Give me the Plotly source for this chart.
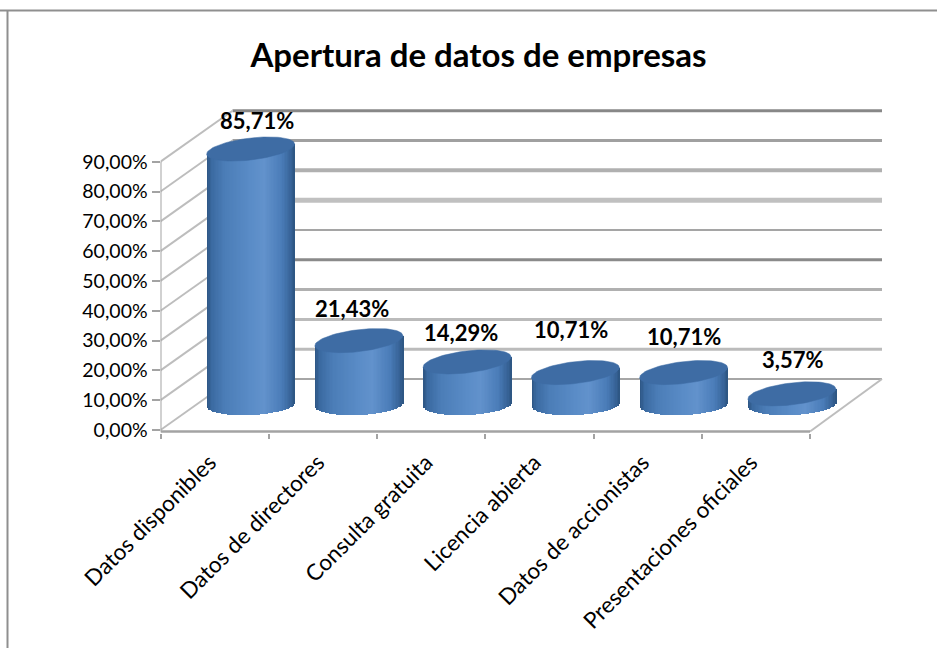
import numpy as np
import plotly.graph_objects as go

# --- data ---
CATEGORIES = ["Datos disponibles", "Datos de directores", "Consulta gratuita",
              "Licencia abierta", "Datos de accionistas", "Presentaciones oficiales"]
VALUES = [85.71, 21.43, 14.29, 10.71, 10.71, 3.57]
VALUE_LABELS = ["85,71%", "21,43%", "14,29%", "10,71%", "10,71%", "3,57%"]
Y_TICKS = [0, 10, 20, 30, 40, 50, 60, 70, 80, 90]
Y_TICK_LABELS = ["0,00%", "10,00%", "20,00%", "30,00%", "40,00%", "50,00%",
                 "60,00%", "70,00%", "80,00%", "90,00%"]
TITLE = "Apertura de datos de empresas"

# --- layout constants (pixels of the 937x648 page) ---
W, H = 937, 648
PX_L, PX_R, PX_T, PX_B = 160.5, 890.0, 100.0, 433.0
PX_PER_X = 108.25
PX_PER_Y = 2.981
Y0_PX = 430.0
DEPTH_X = 72 / PX_PER_X
DEPTH_Y = 51 / PX_PER_Y
RX = 44 / PX_PER_X
RY_TOP = 11 / PX_PER_Y
RY_BOT = 10.5 / PX_PER_Y
TILT_TOP = 5 / PX_PER_Y
TILT_BOT = 2 / PX_PER_Y
X_RANGE = [-0.5, -0.5 + (PX_R - PX_L) / PX_PER_X]
Y_RANGE = [(Y0_PX - PX_B) / PX_PER_Y, (Y0_PX - PX_T) / PX_PER_Y]
LABEL_X_SHIFT = 5 / PX_PER_X

FONT = "Lato, Carlito, Calibri, sans-serif"
AXIS = "#a3a3a3"
WALL = "#bdbdbd"
GRID_STYLE = [("#a6a6a6", 2), ("#bbbbbb", 3), ("#bbbbbb", 3), ("#b0b0b0", 3), ("#8a8a8a", 3),
              ("#a5a5a5", 2), ("#c0c0c0", 5), ("#b0b0b0", 4), ("#a0a0a0", 3), ("#888888", 3)]
LABEL_SHIFT = [(6, 29), (-7, 32), (-6, 29), (-4, 43), (0, 36), (1, 34)]

STOPS_U = [-1.0, -0.9, -0.6, 0.0, 0.3, 0.7, 0.92, 1.0]
STOPS_RGB = [(45, 85, 130), (58, 105, 160), (75, 125, 183), (90, 140, 199),
             (98, 146, 204), (74, 124, 184), (54, 98, 150), (44, 84, 128)]
CAP = "#3e6ca4"


def shade(u):
    rgb = [np.interp(u, STOPS_U, [c[k] for c in STOPS_RGB]) for k in range(3)]
    return "rgb({:.0f},{:.0f},{:.0f})".format(*rgb)


fig = go.Figure()

# Cylinder sides: each one is a row of narrow bars with a curved base
N = 64
us = (np.arange(N) + 0.5) / N * 2 - 1
sx, sbase, sh, scol = [], [], [], []
for i, v in enumerate(VALUES):
    cx = i + DEPTH_X / 2
    cy = DEPTH_Y / 2
    for u in us:
        sx.append(cx + u * RX)
        sbase.append(cy - RY_BOT * np.sqrt(1 - u * u) + TILT_BOT * u)
        sh.append(v + RY_BOT * np.sqrt(1 - u * u) + (TILT_TOP - TILT_BOT) * u)
        scol.append(shade(u))
fig.add_trace(go.Bar(x=sx, y=sh, base=sbase, width=2 * RX / N * 1.5,
                     marker=dict(color=scol, line=dict(width=0)),
                     showlegend=False, hoverinfo="skip"))

# Cylinder caps
t = np.linspace(0, 2 * np.pi, 90)
for i, v in enumerate(VALUES):
    cx = i + DEPTH_X / 2
    cy = DEPTH_Y / 2 + v
    fig.add_trace(go.Scatter(x=cx + RX * np.cos(t),
                             y=cy + RY_TOP * np.sin(t) + TILT_TOP * np.cos(t),
                             mode="lines", fill="toself", fillcolor=CAP,
                             line=dict(color=CAP, width=0.5),
                             showlegend=False, hoverinfo="skip"))

# Walls and axis lines, behind the cylinders
shapes = []
x_front_l, x_front_r = -0.5, 5.5
for tick, (col, wid) in zip(Y_TICKS, GRID_STYLE):
    shapes.append(dict(type="line", xref="x", yref="y", layer="below",
                       x0=x_front_l + DEPTH_X, x1=x_front_r + DEPTH_X,
                       y0=tick + DEPTH_Y, y1=tick + DEPTH_Y,
                       line=dict(color=col, width=wid)))
    shapes.append(dict(type="line", xref="x", yref="y", layer="below",
                       x0=x_front_l, x1=x_front_l + DEPTH_X,
                       y0=tick, y1=tick + DEPTH_Y,
                       line=dict(color=WALL, width=2)))
shapes.append(dict(type="line", xref="x", yref="y", layer="below",
                   x0=x_front_r, x1=x_front_r + DEPTH_X, y0=-0.5, y1=DEPTH_Y,
                   line=dict(color=WALL, width=2)))
shapes.append(dict(type="line", xref="x", yref="y", layer="below",
                   x0=x_front_l, x1=x_front_r, y0=-0.5, y1=-0.5,
                   line=dict(color=AXIS, width=2.5)))
shapes.append(dict(type="line", xref="x", yref="y", layer="below",
                   x0=x_front_l, x1=x_front_l, y0=-0.5, y1=max(Y_TICKS),
                   line=dict(color=AXIS, width=2)))
# Outer frame: only top and left edges are visible
shapes.append(dict(type="line", xref="paper", yref="paper", x0=0, x1=1,
                   y0=1 - 10.5 / H, y1=1 - 10.5 / H, line=dict(color="#8f8f8f", width=2)))
shapes.append(dict(type="line", xref="paper", yref="paper", x0=7.5 / W, x1=7.5 / W,
                   y0=0, y1=1 - 10 / H, line=dict(color="#8f8f8f", width=2)))

annotations = []
for i, (v, lab, (dx, dy)) in enumerate(zip(VALUES, VALUE_LABELS, LABEL_SHIFT)):
    annotations.append(dict(x=i + DEPTH_X / 2, y=v + DEPTH_Y / 2, xref="x", yref="y",
                            text="<b>%s</b>" % lab, showarrow=False, xshift=dx, yshift=dy,
                            xanchor="center", yanchor="middle",
                            font=dict(family=FONT, size=22, color="black")))

fig.update_layout(
    width=W, height=H, autosize=False,
    margin=dict(l=0, r=0, t=0, b=0, pad=0),
    paper_bgcolor="white", plot_bgcolor="rgba(0,0,0,0)",
    barmode="overlay", bargap=0, showlegend=False,
    title=dict(text="<b>%s</b>" % TITLE, x=478.5 / W, xanchor="center", xref="paper",
               y=1 - 55 / H, yanchor="middle", yref="paper",
               font=dict(family=FONT, size=33, color="black")),
    shapes=shapes, annotations=annotations,
    xaxis=dict(domain=[PX_L / W, PX_R / W], range=X_RANGE, type="linear", automargin=False,
               tickmode="array", tickvals=[k - LABEL_X_SHIFT for k in range(len(CATEGORIES))],
               ticktext=CATEGORIES,
               tickangle=-45, ticks="", showgrid=False, zeroline=False, showline=False,
               ticklabelstandoff=11,
               tickfont=dict(family=FONT, size=22.5, color="black"),
               minor=dict(tickmode="array", tickvals=[k - 0.5 for k in range(len(CATEGORIES) + 1)],
                          ticks="outside", ticklen=5, tickwidth=2, tickcolor=AXIS, showgrid=False)),
    yaxis=dict(domain=[1 - PX_B / H, 1 - PX_T / H], range=Y_RANGE, type="linear", automargin=False,
               tickmode="array", tickvals=Y_TICKS, ticktext=Y_TICK_LABELS,
               ticks="outside", ticklen=8, tickwidth=2, tickcolor=AXIS,
               showgrid=False, zeroline=False, showline=False,
               tickfont=dict(family=FONT, size=19.5, color="black")),
)

fig.write_html("out.html", config={"displayModeBar": False},
               post_script="document.body.style.margin='0';")
